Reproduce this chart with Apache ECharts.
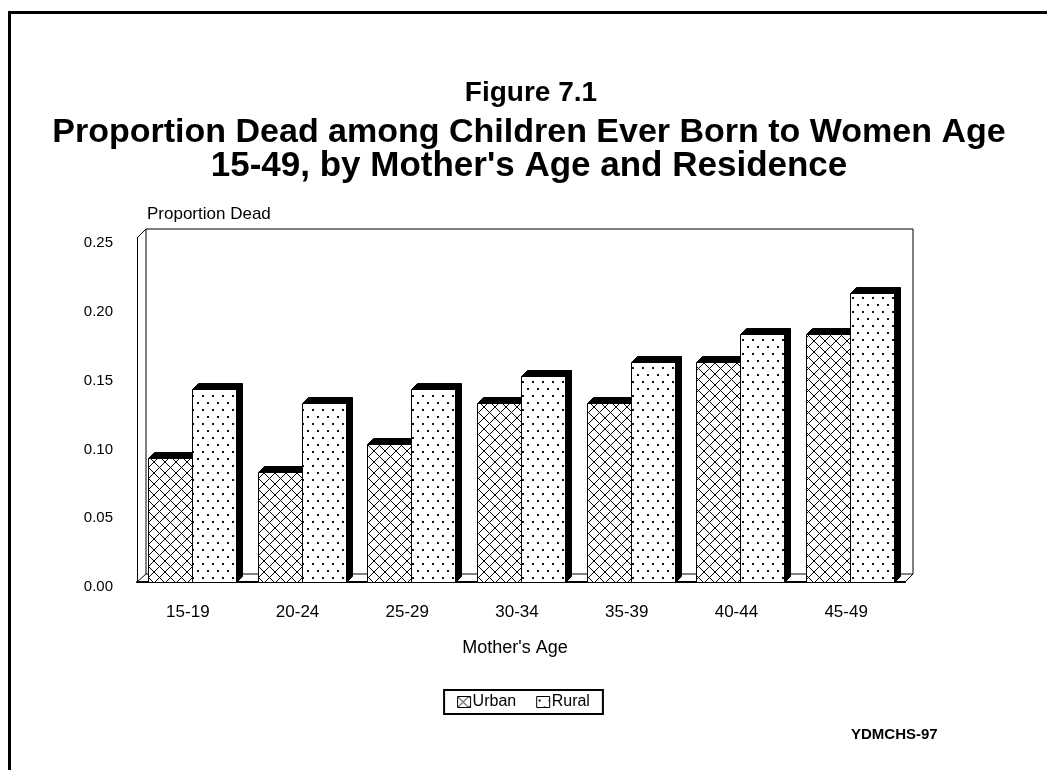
<!DOCTYPE html>
<html>
<head>
<meta charset="utf-8">
<script src="https://cdn.jsdelivr.net/npm/echarts@6/dist/echarts.min.js"></script>
<style>
  html, body { margin: 0; padding: 0; background: #fff; }
  .frame {
    position: absolute; left: 8px; top: 11px; width: 1100px; height: 800px;
    border-left: 3px solid #000; border-top: 3px solid #000;
  }
  #chart { position: absolute; left: 0; top: 0; width: 1047px; height: 770px; }
</style>
</head>
<body>
<div class="frame"></div>
<div id="chart"></div>
<script>
// mother's age groups
const ageGroups = ['15-19', '20-24', '25-29', '30-34', '35-39', '40-44', '45-49']
// proportion dead among children ever born
const urbanValues = [0.09, 0.08, 0.10, 0.13, 0.13, 0.16, 0.18]
const ruralValues = [0.14, 0.13, 0.14, 0.15, 0.16, 0.18, 0.21]
const yTicks = [0, 0.05, 0.10, 0.15, 0.20, 0.25]

const font = '"Liberation Sans", Arial, sans-serif'

// front plane (data grid) and back wall
const front = { left: 137, top: 238, width: 768, height: 344 }
const back = { left: 146, top: 229, width: 767, height: 345 }
const barW = 44 // width of one bar front face
const depth = 6 // 3d offset of the black side / top faces
const titleX = 524 // horizontal anchor of the title lines

// cross hatch pattern for Urban
function makeHatch () {
  const n = 11
  const c = document.createElement('canvas')
  c.width = n
  c.height = n
  const ctx = c.getContext('2d')
  ctx.fillStyle = '#fff'
  ctx.fillRect(0, 0, n, n)
  ctx.fillStyle = '#000'
  for (let i = 0; i < n; i++) {
    ctx.fillRect(i, i, 1, 1)
    ctx.fillRect(n - 1 - i, i, 1, 1)
  }
  return c
}
// dotted pattern for Rural
function makeDots () {
  const c = document.createElement('canvas')
  c.width = 10
  c.height = 14
  const ctx = c.getContext('2d')
  ctx.fillStyle = '#fff'
  ctx.fillRect(0, 0, 10, 14)
  ctx.fillStyle = '#111'
  ctx.fillRect(2, 3, 2, 2)
  ctx.fillRect(7, 10, 2, 2)
  return c
}

const hatchFill = { image: makeHatch(), repeat: 'repeat' }
const dotFill = { image: makeDots(), repeat: 'repeat' }

// side: 0 = left bar of the pair (Urban), 1 = right bar (Rural)
function barRenderer (side, fill) {
  return function (params, api) {
    const cat = api.value(0)
    const base = api.coord([cat, 0])
    const top = api.coord([cat, api.value(1)])
    const L = Math.round(side === 0 ? base[0] - barW : base[0]) + 0.5
    const R = L + barW
    const T = Math.round(top[1]) + 0.5
    const B = Math.round(base[1]) + 0.5
    return {
      type: 'group',
      children: [
        {
          type: 'polygon',
          shape: { points: [[L, T], [L + depth, T - depth], [R + depth, T - depth], [R + depth, B - depth], [R, B], [R, T]] },
          style: { fill: '#000', stroke: '#000', lineWidth: 1 },
        },
        {
          type: 'rect',
          shape: { x: L, y: T, width: barW, height: B - T },
          style: { fill: fill, stroke: '#000', lineWidth: 1 },
        },
      ],
    }
  }
}

const chart = echarts.init(document.getElementById('chart'))

const fx = front.left, fy = front.top, fr = front.left + front.width, fb = front.top + front.height
const bx = back.left, by = back.top, br = back.left + back.width, bb = back.top + back.height

const option = {
  animation: false,
  title: [
    { text: 'Figure 7.1', left: titleX + 2, textAlign: 'center', top: 74, textStyle: { fontFamily: font, fontSize: 28, fontWeight: 'bold', color: '#000' } },
    { text: 'Proportion Dead among Children Ever Born to Women Age', left: titleX, textAlign: 'center', top: 111, textStyle: { fontFamily: font, fontSize: 34, fontWeight: 'bold', color: '#000' } },
    { text: "15-49, by Mother's Age and Residence", left: titleX, textAlign: 'center', top: 144, textStyle: { fontFamily: font, fontSize: 35, fontWeight: 'bold', color: '#000' } },
    { text: 'YDMCHS-97', left: 846, top: 722, textStyle: { fontFamily: font, fontSize: 15, fontWeight: 'bold', color: '#000' } },
  ],
  legend: {
    data: ['Urban', 'Rural'],
    left: 'center',
    top: 690,
    icon: 'rect',
    itemWidth: 13,
    itemHeight: 11,
    itemGap: 20,
    padding: [4, 13],
    borderColor: '#000',
    borderWidth: 2,
    itemStyle: { borderColor: '#000', borderWidth: 1 },
    textStyle: { fontFamily: font, fontSize: 16, color: '#000', padding: [0, 0, 0, -3] },
  },
  grid: [
    { left: back.left, top: back.top, width: back.width, height: back.height, show: true, borderColor: '#000', borderWidth: 1, backgroundColor: 'transparent' },
    { left: front.left, top: front.top, width: front.width, height: front.height },
  ],
  xAxis: [
    { gridIndex: 0, type: 'value', show: false },
    {
      gridIndex: 1,
      type: 'category',
      data: ageGroups,
      axisLine: { lineStyle: { color: '#000', width: 2 } },
      axisTick: { show: false },
      axisLabel: { color: '#000', fontFamily: font, fontSize: 17, margin: 22, padding: [0, 8, 0, 0] },
      name: "Mother's Age",
      nameLocation: 'middle',
      nameGap: 57,
      nameTextStyle: { color: '#000', fontFamily: font, fontSize: 18, padding: [0, 12, 0, 0] },
    },
  ],
  yAxis: [
    { gridIndex: 0, type: 'value', show: false },
    {
      gridIndex: 1,
      type: 'value',
      min: yTicks[0],
      max: yTicks[yTicks.length - 1],
      interval: yTicks[1] - yTicks[0],
      axisLine: { show: true, lineStyle: { color: '#000', width: 1 } },
      axisTick: { show: false },
      splitLine: { show: false },
      axisLabel: {
        color: '#000', fontFamily: font, fontSize: 15, margin: 24,
        verticalAlign: 'top', lineHeight: 10,
        formatter: (v) => v.toFixed(2),
      },
      name: 'Proportion Dead',
      nameLocation: 'end',
      nameGap: 15,
      nameTextStyle: { color: '#000', fontFamily: font, fontSize: 17, align: 'left', padding: [0, 0, 0, 10] },
    },
  ],
  series: [
    {
      name: 'Urban',
      type: 'custom',
      xAxisIndex: 1,
      yAxisIndex: 1,
      data: urbanValues.map((v, i) => [i, v]),
      encode: { x: 0, y: 1 },
      itemStyle: { color: hatchFill },
      renderItem: barRenderer(0, hatchFill),
      silent: true,
    },
    {
      name: 'Rural',
      type: 'custom',
      xAxisIndex: 1,
      yAxisIndex: 1,
      data: ruralValues.map((v, i) => [i, v]),
      encode: { x: 0, y: 1 },
      itemStyle: { color: dotFill },
      renderItem: barRenderer(1, dotFill),
      silent: true,
    },
  ],
  // 3D box corner edges
  graphic: [
    { type: 'line', shape: { x1: fx, y1: fy, x2: bx, y2: by }, style: { stroke: '#000', lineWidth: 1 } },
    { type: 'line', shape: { x1: fx, y1: fb, x2: bx, y2: bb }, style: { stroke: '#000', lineWidth: 1 } },
    { type: 'line', shape: { x1: fr, y1: fb, x2: br, y2: bb }, style: { stroke: '#000', lineWidth: 1 } },
  ],
}

chart.setOption(option)
</script>
</body>
</html>
